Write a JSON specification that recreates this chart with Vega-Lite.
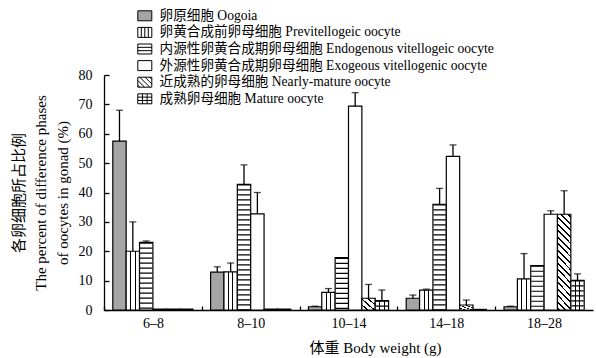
{
  "$schema": "https://vega.github.io/schema/vega-lite/v6.json",
  "autosize": {"type": "none"},
  "width": 489,
  "height": 235,
  "padding": {"left": 104, "top": 75, "right": 3, "bottom": 48},
  "background": "white",
  "config": {"view": {"stroke": null}, "font": "Liberation Serif, 'Noto Sans CJK SC'"},
  "data": {"values": [
    {"group":"6–8","phase":"Oogoia","value":57.5,"upper":68},
    {"group":"6–8","phase":"Previtellogeic","value":20,"upper":30},
    {"group":"6–8","phase":"Endogenous","value":23,"upper":23.5},
    {"group":"6–8","phase":"Exogeous","value":0.3,"upper":null},
    {"group":"6–8","phase":"Nearly-mature","value":0.3,"upper":null},
    {"group":"6–8","phase":"Mature","value":0.3,"upper":null},
    {"group":"8–10","phase":"Oogoia","value":12.9,"upper":14.7},
    {"group":"8–10","phase":"Previtellogeic","value":13,"upper":16},
    {"group":"8–10","phase":"Endogenous","value":42.8,"upper":49.4},
    {"group":"8–10","phase":"Exogeous","value":32.7,"upper":40},
    {"group":"8–10","phase":"Nearly-mature","value":0.3,"upper":null},
    {"group":"8–10","phase":"Mature","value":0.3,"upper":null},
    {"group":"10–14","phase":"Oogoia","value":1.1,"upper":1.3},
    {"group":"10–14","phase":"Previtellogeic","value":6,"upper":7.3},
    {"group":"10–14","phase":"Endogenous","value":17.8,"upper":null},
    {"group":"10–14","phase":"Exogeous","value":69.4,"upper":74},
    {"group":"10–14","phase":"Nearly-mature","value":4,"upper":8.7},
    {"group":"10–14","phase":"Mature","value":3.2,"upper":6.8},
    {"group":"14–18","phase":"Oogoia","value":4,"upper":5.1},
    {"group":"14–18","phase":"Previtellogeic","value":6.8,"upper":7.1},
    {"group":"14–18","phase":"Endogenous","value":36,"upper":41.4},
    {"group":"14–18","phase":"Exogeous","value":52.3,"upper":56.2},
    {"group":"14–18","phase":"Nearly-mature","value":1.7,"upper":3.4},
    {"group":"14–18","phase":"Mature","value":0.2,"upper":null},
    {"group":"18–28","phase":"Oogoia","value":1.1,"upper":1.3},
    {"group":"18–28","phase":"Previtellogeic","value":10.6,"upper":19.2},
    {"group":"18–28","phase":"Endogenous","value":15.1,"upper":null},
    {"group":"18–28","phase":"Exogeous","value":32.6,"upper":33.8},
    {"group":"18–28","phase":"Nearly-mature","value":32.6,"upper":40.6},
    {"group":"18–28","phase":"Mature","value":10.1,"upper":12.3}
  ]},
  "encoding": {
    "x": {
      "field": "group", "type": "nominal",
      "scale": {"domain": ["6–8","8–10","10–14","14–18","18–28"], "paddingInner": 0.18, "paddingOuter": 0.09},
      "axis": {
        "labelAngle": 0, "labelFontSize": 14, "labelColor": "black",
        "domainColor": "black", "domainWidth": 1.3,
        "tickColor": "black", "tickWidth": 1.3, "tickSize": -4,
        "tickOffset": -48.9, "labelOffset": 48.9, "labelPadding": 10,
        "title": "体重  Body weight (g)", "titleFontSize": 15, "titleFontWeight": "normal",
        "titleColor": "black", "titlePadding": 10, "titleX": 271
      }
    },
    "xOffset": {
      "field": "phase", "type": "nominal",
      "scale": {"domain": ["Oogoia","Previtellogeic","Endogenous","Exogeous","Nearly-mature","Mature"], "paddingInner": 0, "paddingOuter": 0}
    },
    "y": {
      "field": "value", "type": "quantitative",
      "scale": {"domain": [0, 80], "nice": false},
      "axis": {
        "values": [0,10,20,30,40,50,60,70,80], "grid": false,
        "labelFontSize": 14, "labelColor": "black", "labelPadding": 17,
        "domainColor": "black", "domainWidth": 1.3,
        "tickColor": "black", "tickWidth": 1.3, "tickSize": -5,
        "title": ["各卵细胞所占比例", "The percent of difference phases", "of oocytes in gonad (%)"],
        "titleFontSize": 15, "titleFontWeight": "normal", "titleColor": "black",
        "titleLineHeight": 22, "titlePadding": 8
      }
    }
  },
  "layer": [
    {
      "mark": {"type": "bar", "stroke": "black", "strokeWidth": 1.2},
      "encoding": {
        "fill": {
          "condition": [
            {"test": "datum.phase === 'Previtellogeic' || datum.phase === 'Mature'",
             "value": {"gradient": "linear", "x1": 0, "y1": 0, "x2": 1, "y2": 0, "stops": [
               {"offset": 0, "color": "white"}, {"offset": 0.295, "color": "white"},
               {"offset": 0.295, "color": "black"}, {"offset": 0.37, "color": "black"},
               {"offset": 0.37, "color": "white"}, {"offset": 0.63, "color": "white"},
               {"offset": 0.63, "color": "black"}, {"offset": 0.705, "color": "black"},
               {"offset": 0.705, "color": "white"}, {"offset": 1, "color": "white"}]}},
            {"test": "datum.phase === 'Nearly-mature' && datum.value > 20",
             "value": {"gradient": "linear", "x1": 0.585, "y1": -0.1, "x2": 0.415, "y2": 1.1, "stops": [
               {"offset":0,"color":"black"},{"offset":0.0167,"color":"black"},{"offset":0.0167,"color":"white"},{"offset":0.0556,"color":"white"},
               {"offset":0.0556,"color":"black"},{"offset":0.0723,"color":"black"},{"offset":0.0723,"color":"white"},{"offset":0.1111,"color":"white"},
               {"offset":0.1111,"color":"black"},{"offset":0.1278,"color":"black"},{"offset":0.1278,"color":"white"},{"offset":0.1667,"color":"white"},
               {"offset":0.1667,"color":"black"},{"offset":0.1834,"color":"black"},{"offset":0.1834,"color":"white"},{"offset":0.2222,"color":"white"},
               {"offset":0.2222,"color":"black"},{"offset":0.2389,"color":"black"},{"offset":0.2389,"color":"white"},{"offset":0.2778,"color":"white"},
               {"offset":0.2778,"color":"black"},{"offset":0.2945,"color":"black"},{"offset":0.2945,"color":"white"},{"offset":0.3333,"color":"white"},
               {"offset":0.3333,"color":"black"},{"offset":0.35,"color":"black"},{"offset":0.35,"color":"white"},{"offset":0.3889,"color":"white"},
               {"offset":0.3889,"color":"black"},{"offset":0.4056,"color":"black"},{"offset":0.4056,"color":"white"},{"offset":0.4444,"color":"white"},
               {"offset":0.4444,"color":"black"},{"offset":0.4611,"color":"black"},{"offset":0.4611,"color":"white"},{"offset":0.5,"color":"white"},
               {"offset":0.5,"color":"black"},{"offset":0.5167,"color":"black"},{"offset":0.5167,"color":"white"},{"offset":0.5556,"color":"white"},
               {"offset":0.5556,"color":"black"},{"offset":0.5723,"color":"black"},{"offset":0.5723,"color":"white"},{"offset":0.6111,"color":"white"},
               {"offset":0.6111,"color":"black"},{"offset":0.6278,"color":"black"},{"offset":0.6278,"color":"white"},{"offset":0.6667,"color":"white"},
               {"offset":0.6667,"color":"black"},{"offset":0.6834,"color":"black"},{"offset":0.6834,"color":"white"},{"offset":0.7222,"color":"white"},
               {"offset":0.7222,"color":"black"},{"offset":0.7389,"color":"black"},{"offset":0.7389,"color":"white"},{"offset":0.7778,"color":"white"},
               {"offset":0.7778,"color":"black"},{"offset":0.7945,"color":"black"},{"offset":0.7945,"color":"white"},{"offset":0.8333,"color":"white"},
               {"offset":0.8333,"color":"black"},{"offset":0.85,"color":"black"},{"offset":0.85,"color":"white"},{"offset":0.8889,"color":"white"},
               {"offset":0.8889,"color":"black"},{"offset":0.9056,"color":"black"},{"offset":0.9056,"color":"white"},{"offset":0.9444,"color":"white"},
               {"offset":0.9444,"color":"black"},{"offset":0.9611,"color":"black"},{"offset":0.9611,"color":"white"},{"offset":1,"color":"white"}]}},
            {"test": "datum.phase === 'Nearly-mature'",
             "value": {"gradient": "linear", "x1": 1, "y1": 0, "x2": 0, "y2": 1, "stops": [
               {"offset":0,"color":"black"},{"offset":0.07,"color":"black"},{"offset":0.07,"color":"white"},{"offset":0.25,"color":"white"},
               {"offset":0.25,"color":"black"},{"offset":0.32,"color":"black"},{"offset":0.32,"color":"white"},{"offset":0.5,"color":"white"},
               {"offset":0.5,"color":"black"},{"offset":0.57,"color":"black"},{"offset":0.57,"color":"white"},{"offset":0.75,"color":"white"},
               {"offset":0.75,"color":"black"},{"offset":0.82,"color":"black"},{"offset":0.82,"color":"white"},{"offset":1,"color":"white"}]}}
          ],
          "field": "phase", "type": "nominal",
          "scale": {"domain": ["Oogoia","Previtellogeic","Endogenous","Exogeous","Nearly-mature","Mature"],
                    "range": ["#a5a5a5","white","white","white","white","white"]},
          "legend": {
            "orient": "none", "legendX": 34, "legendY": -66, "title": null,
            "padding": 0, "rowPadding": 1.6, "labelOffset": 8, "symbolSize": 136,
            "labelFontSize": 13.6, "labelColor": "black", "labelLimit": 500,
            "symbolStrokeColor": "black", "symbolStrokeWidth": 1,
            "labelExpr": "{'Oogoia':'卵原细胞 Oogoia','Previtellogeic':'卵黄合成前卵母细胞 Previtellogeic oocyte','Endogenous':'内源性卵黄合成期卵母细胞 Endogenous vitellogeic oocyte','Exogeous':'外源性卵黄合成期卵母细胞 Exogeous vitellogenic oocyte','Nearly-mature':'近成熟的卵母细胞 Nearly-mature oocyte','Mature':'成熟卵母细胞 Mature oocyte'}[datum.value]",
            "encode": {"symbols": {"update": {"shape": {"signal": "['M-1.2,-0.855H1.2V0.855H-1.2Z','M-1.2,-0.855H1.2V0.855H-1.2ZM-0.6,-0.855V0.855M0,-0.855V0.855M0.6,-0.855V0.855','M-1.2,-0.855H1.2V0.855H-1.2ZM-1.2,-0.285H1.2M-1.2,0.285H1.2','M-1.2,-0.855H1.2V0.855H-1.2Z','M-1.2,-0.855H1.2V0.855H-1.2ZM-1.2,-0.3L-0.045,0.855M-0.855,-0.855L0.855,0.855M0.045,-0.855L1.2,0.3M-1.2,0.5L-0.845,0.855M0.845,-0.855L1.2,-0.5','M-1.2,-0.855H1.2V0.855H-1.2ZM-0.4,-0.855V0.855M0.4,-0.855V0.855M-1.2,-0.285H1.2M-1.2,0.285H1.2'][datum.index]"}}}}
          }
        }
      }
    },
    {
      "transform": [{"filter": "datum.phase === 'Endogenous' || datum.phase === 'Mature'"}],
      "mark": {"type": "rule", "color": "black", "strokeWidth": 12.4, "strokeDash": [1.2, 3.8], "strokeCap": "butt"},
      "encoding": {
        "y2": {"datum": 0}
      }
    },
    {
      "transform": [{"filter": "datum.upper != null"}],
      "mark": {"type": "rule", "color": "black", "strokeWidth": 1.3},
      "encoding": {
        "y": {"field": "upper", "type": "quantitative"},
        "y2": {"field": "value"}
      }
    },
    {
      "transform": [{"filter": "datum.upper != null"}],
      "mark": {"type": "tick", "color": "black", "orient": "horizontal", "size": 7, "thickness": 1.3},
      "encoding": {
        "y": {"field": "upper", "type": "quantitative"}
      }
    }
  ]
}
